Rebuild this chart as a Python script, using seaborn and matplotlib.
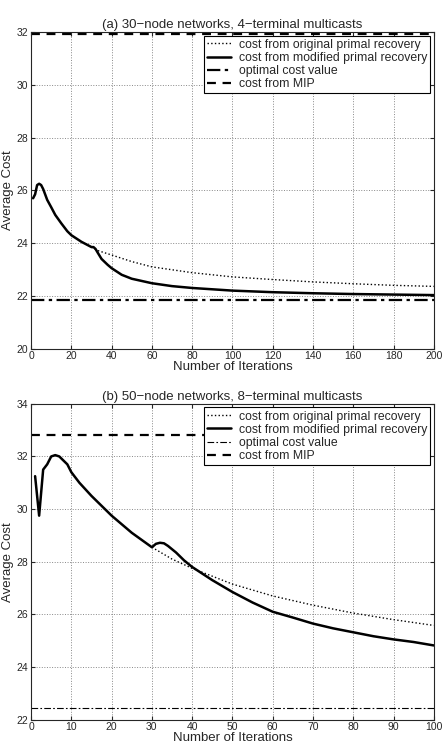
import numpy as np
import pandas as pd
import matplotlib
matplotlib.use("Agg")
import matplotlib.pyplot as plt
import seaborn as sns

# (a) 30-node networks, 4-terminal multicasts
iters_a = [1, 2, 3, 4, 5, 6, 8, 10, 12, 15, 18, 20, 25, 30, 31, 32, 33, 35, 38, 40, 45, 50,
           60, 70, 80, 100, 120, 140, 160, 180, 200]
modified_a = [25.7, 25.85, 26.2, 26.25, 26.2, 26.05, 25.64, 25.36, 25.07, 24.75, 24.45, 24.3, 24.05,
              23.85, 23.85, 23.78, 23.65, 23.4, 23.18, 23.05, 22.8, 22.65, 22.48, 22.37, 22.3,
              22.2, 22.14, 22.1, 22.07, 22.05, 22.03]
orig_iters_a = [30, 33, 40, 50, 60, 80, 100, 120, 140, 160, 180, 200]
original_a = [23.85, 23.72, 23.55, 23.3, 23.1, 22.88, 22.72, 22.62, 22.53, 22.46, 22.4, 22.36]
optimal_a = 21.85
mip_a = 31.92

# (b) 50-node networks, 8-terminal multicasts
iters_b = [1, 2, 3, 4, 5, 6, 7, 8, 9, 10, 12, 15, 20, 25, 30, 31, 32, 33, 34, 36, 38, 40, 45,
           50, 55, 60, 65, 70, 75, 80, 85, 90, 95, 100]
modified_b = [31.25, 29.75, 31.5, 31.7, 32.0, 32.05, 32.0, 31.85, 31.7, 31.4, 31.0, 30.5, 29.75,
              29.1, 28.55, 28.68, 28.72, 28.7, 28.6, 28.35, 28.05, 27.8, 27.3, 26.85, 26.45,
              26.1, 25.88, 25.65, 25.47, 25.32, 25.17, 25.05, 24.95, 24.82]
orig_iters_b = [30, 35, 40, 45, 50, 60, 70, 80, 90, 100]
original_b = [28.55, 28.1, 27.75, 27.45, 27.15, 26.7, 26.35, 26.05, 25.8, 25.58]
optimal_b = 22.45
mip_b = 32.8

sns.set_style("ticks")
plt.rcParams['font.family'] = ['Liberation Sans', 'DejaVu Sans']

fig = plt.figure(figsize=(4.44, 7.45), dpi=100)
ax1 = fig.add_axes([0.070, 0.532, 0.907, 0.425])
ax2 = fig.add_axes([0.070, 0.034, 0.907, 0.424])


def draw_panel(ax, it, mod, oit, orig, opt, mip, xmax, ylim, yticks, xticks, title, opt_lw):
    ax.axhline(mip, color='black', ls=(0, (4, 3)), lw=1.6, zorder=2)
    ax.axhline(opt, color='black', ls=(0, (6, 2, 1.5, 2)), lw=opt_lw, zorder=2)
    sns.lineplot(x=oit, y=orig, ax=ax, color='black', ls=':', lw=1.0, zorder=3)
    sns.lineplot(x=it, y=mod, ax=ax, color='black', lw=1.8, zorder=4)
    ax.set_xlim(0, xmax)
    ax.set_ylim(*ylim)
    ax.set_xticks(xticks)
    ax.set_yticks(yticks)
    ax.grid(True, ls=':', color='#888888', lw=0.7)
    ax.tick_params(direction='in', top=True, right=True, labelsize=7.5, length=3, pad=2)
    for s in ax.spines.values():
        s.set_linewidth(0.8)
    ax.set_xlabel('Number of Iterations', fontsize=9.5, labelpad=0)
    ax.set_ylabel('Average Cost', fontsize=9.5, labelpad=2)
    ax.set_title(title, fontsize=9.5, pad=3)
    handles = [
        plt.Line2D([], [], color='black', ls=':', lw=1.0),
        plt.Line2D([], [], color='black', lw=1.8),
        plt.Line2D([], [], color='black', ls=(0, (6, 2, 1.5, 2)), lw=opt_lw),
        plt.Line2D([], [], color='black', ls=(0, (4, 3)), lw=1.6),
    ]
    labels = ['cost from original primal recovery', 'cost from modified primal recovery',
              'optimal cost value', 'cost from MIP']
    leg = ax.legend(handles, labels, loc='upper right', fontsize=8.8, frameon=True,
                    fancybox=False, framealpha=1, edgecolor='black', borderaxespad=0.3,
                    handlelength=2.0, labelspacing=0.1, borderpad=0.25, handletextpad=0.6)
    leg.get_frame().set_linewidth(0.8)
    leg.set_zorder(10)


draw_panel(ax1, iters_a, modified_a, orig_iters_a, original_a, optimal_a, mip_a, 200,
           (20, 32), np.arange(20, 33, 2), np.arange(0, 201, 20),
           '(a) 30\u2212node networks, 4\u2212terminal multicasts', 1.6)
draw_panel(ax2, iters_b, modified_b, orig_iters_b, original_b, optimal_b, mip_b, 100,
           (22, 34), np.arange(22, 35, 2), np.arange(0, 101, 10),
           '(b) 50\u2212node networks, 8\u2212terminal multicasts', 0.8)

fig.savefig('out.png', dpi=100)
